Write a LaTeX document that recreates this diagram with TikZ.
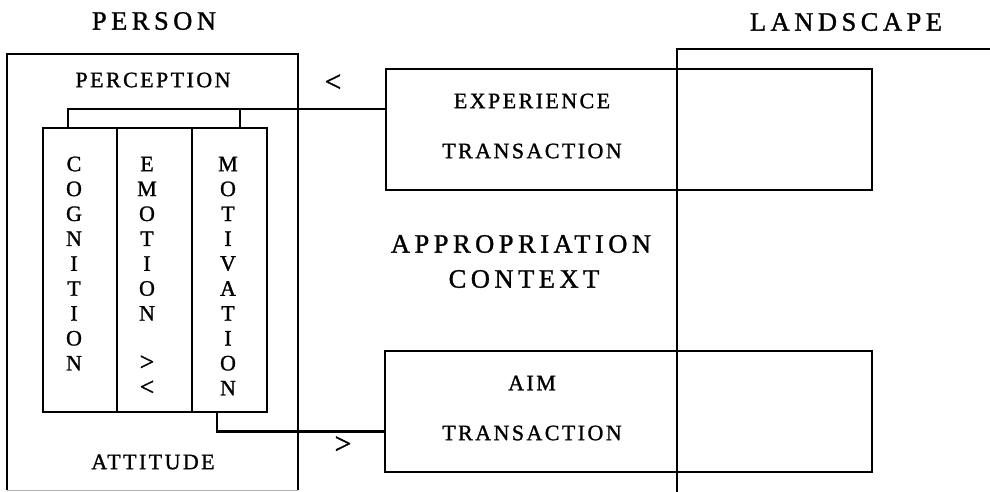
\documentclass[tikz,border=0pt]{standalone}
\usepackage{fontspec}
\setmainfont{Liberation Serif}[FakeBold=1.2]
\newfontfamily\bigsp[LetterSpace=17,FakeBold=1.2]{Liberation Serif}
\newfontfamily\smsp[LetterSpace=11,FakeBold=1.2]{Liberation Serif}
\begin{document}
\begin{tikzpicture}[x=1pt,y=-1pt,
  box/.style={draw,line width=2.2pt},
  thickbox/.style={draw,line width=2.8pt},
  conn/.style={draw,line width=2.2pt},
  bigt/.style={font=\fontsize{26.5}{30}\selectfont\bigsp,inner sep=0pt},
  smt/.style={font=\fontsize{22}{25}\selectfont\smsp,inner sep=0pt},
  lett/.style={font=\fontsize{22}{25}\selectfont,inner sep=0pt,align=center},
  sym/.style={font=\fontsize{30}{32}\selectfont,inner sep=0pt}]
\useasboundingbox (0,0) rectangle (990,492);
% boxes
\draw[thickbox] (7,490) -- (7,54) -- (298,54) -- (298,490);
\draw[gray!60,line width=1pt] (7,490) -- (298,490);
\node[box,minimum width=74pt,minimum height=284pt,inner sep=0pt] (cog) at (80,270) {};
\node[box,minimum width=75pt,minimum height=284pt,inner sep=0pt] (emo) at (154.5,270) {};
\node[box,minimum width=75pt,minimum height=284pt,inner sep=0pt] (mot) at (229.5,270) {};
\node[box,minimum width=486pt,minimum height=121pt,inner sep=0pt] (exp) at (629,129.5) {};
\node[box,minimum width=487pt,minimum height=121pt,inner sep=0pt] (aim) at (628.5,411.5) {};
\coordinate (lsb) at (677,492);
\coordinate (lsr) at (990,49);
\draw[thickbox] (lsb) -- (677,49) -- (lsr);
% connectors
\coordinate (bl) at (68,109);
\coordinate (br) at (240,109);
\draw[conn] (68,128) -- (bl) -- (br) -- (240,128);
\draw[conn] (br) -- (exp.west |- br);
\coordinate (mb) at (217,431.5);
\draw[conn] (217,412) -- (mb) -- (aim.west |- mb);
% texts
\node[bigt] (person) at (154,21) {PERSON};
\node[bigt] (land) at (846,22) {LANDSCAPE};
\node[smt] (perc) at (153,80) {PERCEPTION};
\node[smt] (att) at (153,462) {ATTITUDE};
\node[smt] (e1) at (532,101) {EXPERIENCE};
\node[smt] (e2) at (532,151) {TRANSACTION};
\node[smt] (a1) at (532,383) {AIM};
\node[smt] (a2) at (532,433) {TRANSACTION};
\node[bigt] (ap1) at (521,244) {APPROPRIATION};
\node[bigt] (ap2) at (524,279) {CONTEXT};
\node[sym] (lt) at (333,83) {<};
\node[sym] (gt) at (343,445) {>};
\foreach \ch [count=\i from 0] in {C,O,G,N,I,T,I,O,N}
  \node[lett] at (74,164+24.9*\i) {\ch};
\foreach \ch [count=\i from 0] in {E,M,O,T,I,O,N}
  \node[lett] at (147,164+24.9*\i) {\ch};
\node[sym,font=\fontsize{26}{28}\selectfont] at (147,363) {>};
\node[sym,font=\fontsize{26}{28}\selectfont] at (147,388) {<};
\foreach \ch [count=\i from 0] in {M,O,T,I,V,A,T,I,O,N}
  \node[lett] at (228,164+24.9*\i) {\ch};
\end{tikzpicture}
\end{document}
